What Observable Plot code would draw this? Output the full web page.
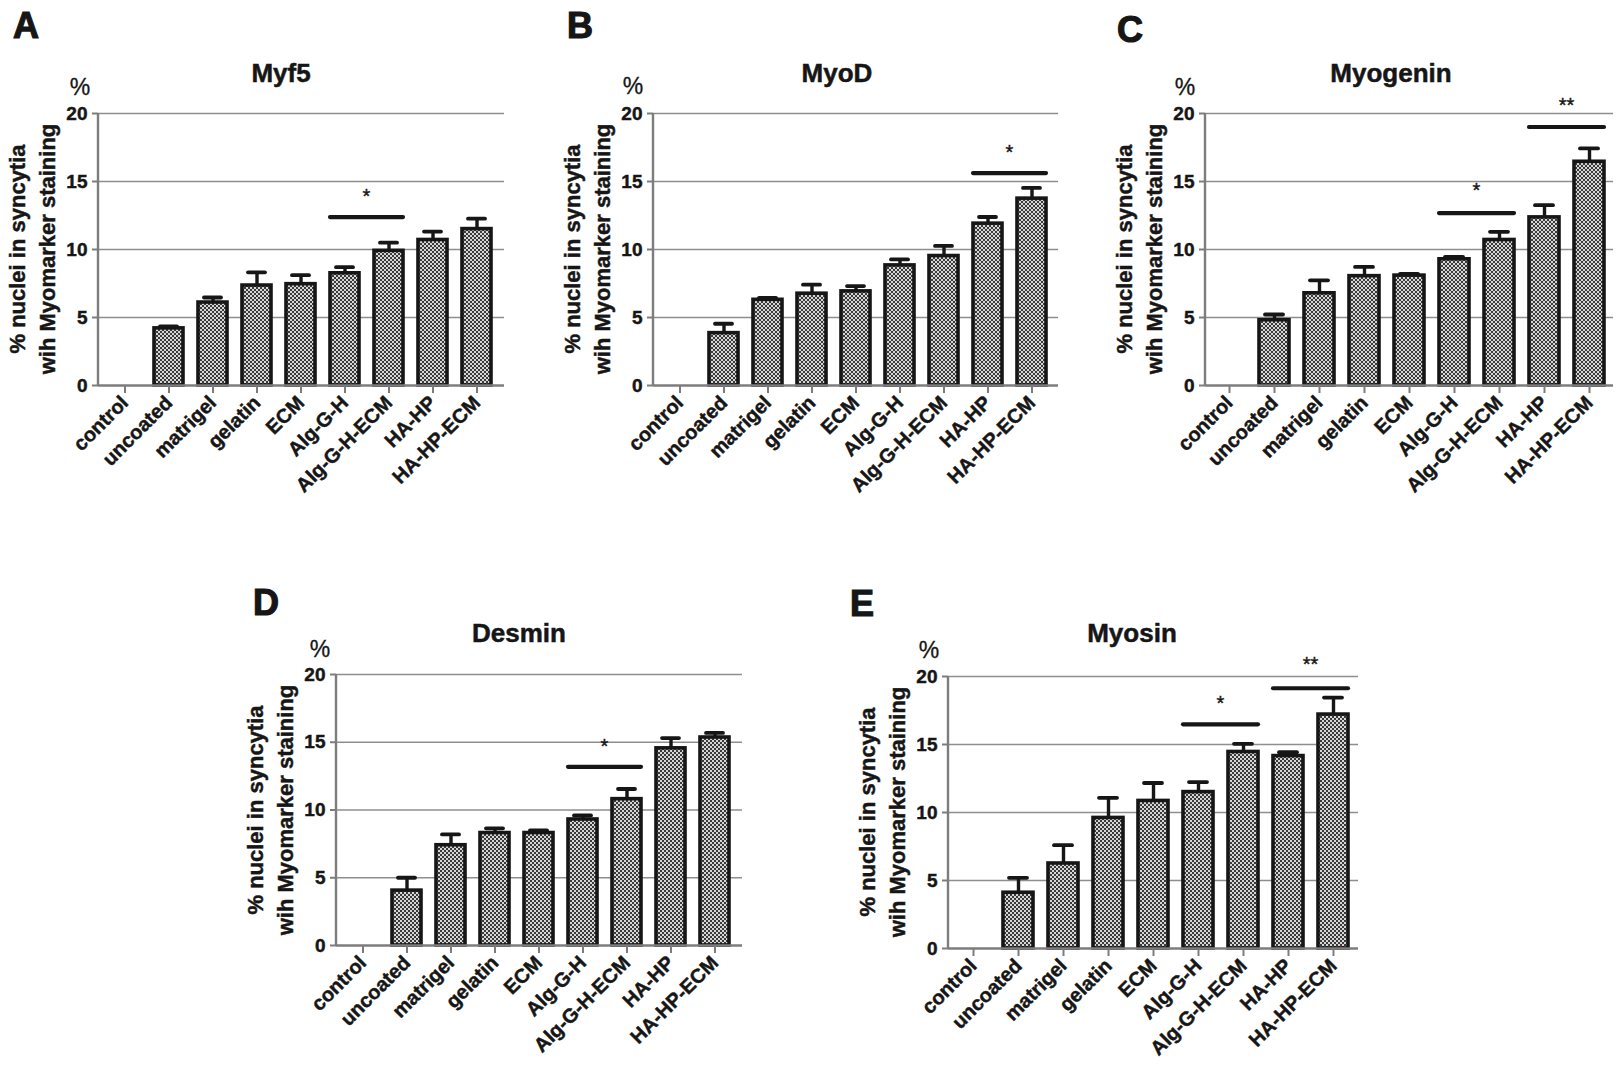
<!DOCTYPE html>
<html>
<head>
<meta charset="utf-8">
<script src="https://cdn.jsdelivr.net/npm/d3@7"></script>
<script src="https://cdn.jsdelivr.net/npm/@observablehq/plot@0.6"></script>
<style>
  body { margin: 0; background: #fff; }
  #root { position: relative; width: 1624px; height: 1075px; overflow: hidden; background: #fff; }
  #root svg.panel { position: absolute; }
  #overlay { position: absolute; left: 0; top: 0; pointer-events: none; }
  #root svg.panel g[aria-label="x-axis tick label"] text,
  #root svg.panel g[aria-label="y-axis tick label"] text { stroke: #161616; stroke-width: 0.45px; }
</style>
</head>
<body>
<div id="root"></div>
<script>
// ---------------- data ----------------
const categories = ["control", "uncoated", "matrigel", "gelatin", "ECM", "Alg-G-H", "Alg-G-H-ECM", "HA-HP", "HA-HP-ECM"];
const yTicks = [0, 5, 10, 15, 20];

const myf5Mean = [0, 4.2, 6.1, 7.35, 7.45, 8.25, 9.9, 10.7, 11.5];
const myf5Err  = [0, 0.15, 0.37, 0.97, 0.66, 0.45, 0.6, 0.62, 0.77];
const myf5Sig  = [{from: "Alg-G-H", to: "Alg-G-H-ECM", level: 12.35, star: 14.2, label: "*"}];

const myodMean = [0, 3.85, 6.3, 6.75, 6.92, 8.83, 9.52, 11.9, 13.74];
const myodErr  = [0, 0.69, 0.15, 0.66, 0.39, 0.44, 0.74, 0.49, 0.79];
const myodSig  = [{from: "HA-HP", to: "HA-HP-ECM", level: 15.58, star: 17.4, label: "*"}];

const myogeninMean = [0, 4.8, 6.78, 8.04, 8.08, 9.28, 10.7, 12.36, 16.45];
const myogeninErr  = [0, 0.42, 0.95, 0.68, 0.12, 0.18, 0.6, 0.9, 0.98];
const myogeninSig  = [
  {from: "Alg-G-H", to: "Alg-G-H-ECM", level: 12.64, star: 14.65, label: "*"},
  {from: "HA-HP", to: "HA-HP-ECM", level: 18.97, star: 20.85, label: "**"}
];

const desminMean = [0, 4.05, 7.4, 8.3, 8.3, 9.3, 10.8, 14.55, 15.35];
const desminErr  = [0, 0.95, 0.8, 0.35, 0.2, 0.3, 0.75, 0.76, 0.34];
const desminSig  = [{from: "Alg-G-H", to: "Alg-G-H-ECM", level: 13.15, star: 15.0, label: "*"}];

const myosinMean = [0, 4.1, 6.25, 9.6, 10.85, 11.5, 14.45, 14.15, 17.2];
const myosinErr  = [0, 1.1, 1.35, 1.48, 1.32, 0.74, 0.6, 0.28, 1.25];
const myosinSig  = [
  {from: "Alg-G-H", to: "Alg-G-H-ECM", level: 16.45, star: 18.3, label: "*"},
  {from: "HA-HP", to: "HA-HP-ECM", level: 19.1, star: 21.2, label: "**"}
];

const yLabelLines = ["% nuclei in syncytia", "wih Myomarker staining"];

// ---------------- layout (page pixels) ----------------
const FONT = '"Liberation Sans", Arial, Helvetica, sans-serif';
const layout = [
  {key: "A", title: "Myf5",     mean: myf5Mean,     err: myf5Err,     sig: myf5Sig,     axisX: 98,   right: 504,  y20: 113, y0: 385, titleX: 281,  titleY: 82,  pctX: 80,   pctY: 95,  letterX: 13,   letterY: 38,  ylabY: 249},
  {key: "B", title: "MyoD",     mean: myodMean,     err: myodErr,     sig: myodSig,     axisX: 653,  right: 1058, y20: 113, y0: 385, titleX: 837,  titleY: 82,  pctX: 633,  pctY: 94,  letterX: 567,  letterY: 38,  ylabY: 249},
  {key: "C", title: "Myogenin", mean: myogeninMean, err: myogeninErr, sig: myogeninSig, axisX: 1205, right: 1613, y20: 113, y0: 385, titleX: 1391, titleY: 82,  pctX: 1185, pctY: 95,  letterX: 1117, letterY: 42,  ylabY: 249},
  {key: "D", title: "Desmin",   mean: desminMean,   err: desminErr,   sig: desminSig,   axisX: 336,  right: 742,  y20: 674, y0: 945, titleX: 519,  titleY: 642, pctX: 320,  pctY: 657, letterX: 253,  letterY: 615, ylabY: 810},
  {key: "E", title: "Myosin",   mean: myosinMean,   err: myosinErr,   sig: myosinSig,   axisX: 948,  right: 1358, y20: 676, y0: 948, titleX: 1132, titleY: 642, pctX: 929,  pctY: 658, letterX: 850,  letterY: 616, ylabY: 812}
];

const INK = "#161616";
const AXIS = "#7d7d7d";
const GRID = "#8e8e8e";
const M = {left: 50, top: 50, right: 14, bottom: 150};

const root = document.getElementById("root");

function sigMark(sigs) {
  return (index, scales) => {
    const {x, y} = scales;
    const g = d3.create("svg:g");
    for (const s of sigs) {
      const x1 = x(s.from), x2 = x(s.to) + x.bandwidth();
      g.append("line")
        .attr("x1", x1).attr("x2", x2)
        .attr("y1", y(s.level)).attr("y2", y(s.level))
        .attr("stroke", INK).attr("stroke-width", 4.2).attr("stroke-linecap", "round");
      g.append("text")
        .attr("x", (x1 + x2) / 2).attr("y", y(s.star) + 11)
        .attr("text-anchor", "middle")
        .attr("font-size", 20).attr("font-weight", "normal")
        .attr("fill", INK).attr("stroke", INK).attr("stroke-width", 0.4)
        .text(s.label);
    }
    return g.node();
  };
}

function yAxisLine(index, scales, values, dims) {
  const {y} = scales;
  const [d0, d1] = y.domain();
  return d3.create("svg:line")
    .attr("x1", dims.marginLeft).attr("x2", dims.marginLeft)
    .attr("y1", y(d0) + 1).attr("y2", y(d1))
    .attr("stroke", AXIS).attr("stroke-width", 2.4)
    .node();
}

for (const p of layout) {
  const data = categories.map((c, i) => ({cat: c, mean: p.mean[i], err: p.err[i]}));
  const shown = data.filter(d => d.mean > 0);
  const plotW = p.right - p.axisX, plotH = p.y0 - p.y20;
  const pid = "checker-" + p.key;
  const chart = Plot.plot({
    width: M.left + plotW + M.right,
    height: M.top + plotH + M.bottom,
    marginLeft: M.left, marginRight: M.right, marginTop: M.top, marginBottom: M.bottom,
    style: {background: "transparent", fontFamily: FONT, fontSize: "18px", fontWeight: "bold", color: INK, overflow: "visible"},
    x: {domain: categories, paddingInner: 0.34, paddingOuter: 0.195, label: null},
    y: {domain: [0, 20], label: null},
    marks: [
      Plot.gridY(yTicks.filter(t => t > 0), {stroke: GRID, strokeOpacity: 1, strokeWidth: 1.7}),
      Plot.barY(shown, {x: "cat", y: "mean", fill: `url(#${pid})`, stroke: INK, strokeWidth: 3.6}),
      Plot.ruleX(shown, {x: "cat", y1: "mean", y2: d => d.mean + d.err, stroke: INK, strokeWidth: 3.4}),
      Plot.tickY(shown, {x: "cat", y: d => d.mean + d.err, stroke: INK, strokeWidth: 3.8, insetLeft: 6, insetRight: 6, strokeLinecap: "round"}),
      Plot.ruleY([0], {stroke: AXIS, strokeWidth: 2.4}),
      yAxisLine,
      Plot.axisY(yTicks, {tickSize: 6, tickPadding: 5, stroke: AXIS, strokeWidth: 2, fill: INK, fontSize: 19, fontWeight: "bold", label: null}),
      Plot.axisX({tickSize: 8, tickPadding: 6, tickRotate: -45, stroke: AXIS, strokeWidth: 2, fill: INK, fontSize: 20, fontWeight: "bold", label: null}),
      sigMark(p.sig)
    ]
  });
  chart.classList.add("panel");
  chart.style.left = (p.axisX - M.left) + "px";
  chart.style.top = (p.y20 - M.top) + "px";
  // checker pattern for the bar fill
  const defs = d3.select(chart).insert("defs", ":first-child");
  const pat = defs.append("pattern").attr("id", pid).attr("width", 4).attr("height", 4).attr("patternUnits", "userSpaceOnUse");
  pat.append("rect").attr("width", 4).attr("height", 4).attr("fill", "#d6d6d6");
  pat.append("rect").attr("width", 2).attr("height", 2).attr("fill", "#3a3a3a");
  pat.append("rect").attr("x", 2).attr("y", 2).attr("width", 2).attr("height", 2).attr("fill", "#3a3a3a");
  root.appendChild(chart);
}

// ---------------- annotation overlay (titles, letters, axis labels) ----------------
const ov = d3.select(root).append("svg").attr("id", "overlay")
  .attr("width", 1624).attr("height", 1075)
  .style("font-family", FONT);

for (const p of layout) {
  ov.append("text").attr("x", p.letterX).attr("y", p.letterY)
    .attr("font-size", 36).attr("font-weight", "bold").attr("fill", INK)
    .attr("stroke", INK).attr("stroke-width", 1.2).text(p.key);
  ov.append("text").attr("x", p.titleX).attr("y", p.titleY).attr("text-anchor", "middle")
    .attr("font-size", 26).attr("font-weight", "bold").attr("fill", INK)
    .attr("stroke", INK).attr("stroke-width", 0.5).text(p.title);
  ov.append("text").attr("x", p.pctX).attr("y", p.pctY).attr("text-anchor", "middle")
    .attr("font-size", 23).attr("fill", INK).attr("stroke", INK).attr("stroke-width", 0.3).text("%");
  const t = ov.append("text")
    .attr("transform", `translate(${p.axisX - 73},${p.ylabY}) rotate(-90)`)
    .attr("text-anchor", "middle").attr("font-size", 22).attr("font-weight", "bold").attr("fill", INK)
    .attr("stroke", INK).attr("stroke-width", 0.45);
  yLabelLines.forEach((line, i) => {
    t.append("tspan").attr("x", 0).attr("y", i * 30).text(line);
  });
}
</script>
</body>
</html>
